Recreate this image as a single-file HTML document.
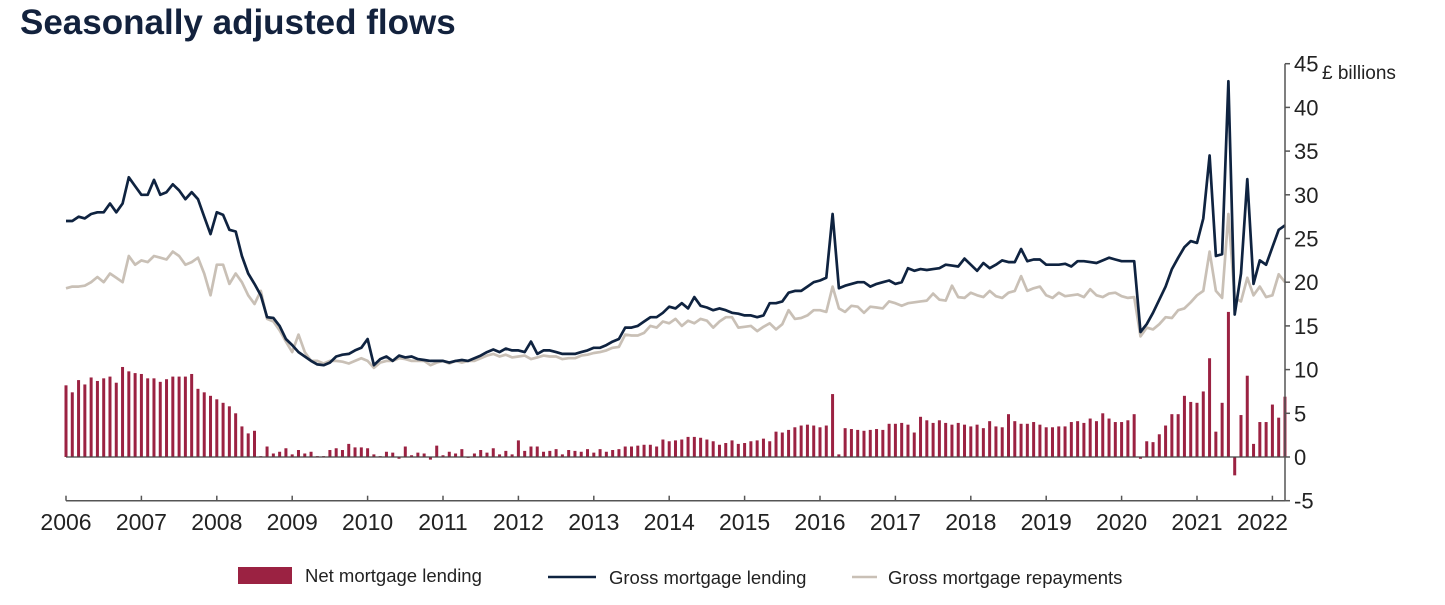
<!DOCTYPE html>
<html><head><meta charset="utf-8"><style>
body{margin:0;background:#fff;width:1445px;height:605px;overflow:hidden;font-family:"Liberation Sans",Arial,sans-serif}
#title{position:absolute;left:20px;top:3px;font-size:35px;font-weight:bold;color:#13223d}
svg{position:absolute;left:0;top:0}
</style></head><body>
<div id="title">Seasonally adjusted flows</div>
<svg id="chart" width="1445" height="605"></svg>
<script>
const yearLabels=["2006","2007","2008","2009","2010","2011","2012","2013","2014","2015","2016","2017","2018","2019","2020","2021","2022"];
const yTicks=[45,40,35,30,25,20,15,10,5,0,-5];
const gross=[27,27,27.5,27.3,27.8,28,28,29,28,29,32,31,
30,30,31.7,30,30.3,31.2,30.5,29.5,30.3,29.5,27.5,25.5,
28,27.7,26,25.8,23,21,19.8,18.5,16,15.9,15,13.5,
12.8,12,11.5,11,10.6,10.5,10.8,11.5,11.7,11.8,12.2,12.5,
13.5,10.5,11.2,11.5,11,11.6,11.4,11.5,11.2,11.1,11,11,
11,10.8,11,11.1,11,11.3,11.6,12,12.3,12,12.4,12.2,
12.2,12,13.2,11.8,12.2,12.2,12,11.8,11.8,11.8,12,12.2,
12.5,12.5,12.8,13.2,13.5,14.8,14.8,15,15.5,16,16,16.5,
17.2,17,17.6,17,18.3,17.3,17.1,16.8,17,16.8,16.5,16.4,
16.2,16.2,16,16.2,17.6,17.6,17.8,18.8,19,19,19.5,20,
20.2,20.5,27.8,19.3,19.6,19.8,20,20,19.5,19.8,20,20.2,
19.8,20,21.6,21.3,21.5,21.4,21.5,21.6,22,21.9,21.8,22.7,
22,21.3,22.2,21.6,22,22.5,22.3,22.3,23.8,22.4,22.6,22.6,
22,22,22,22.1,21.8,22.4,22.4,22.3,22.2,22.5,22.8,22.6,
22.4,22.4,22.4,14.3,15.2,16.5,18,19.5,21.5,22.8,24,24.7,
24.5,27.3,34.5,23,23.2,43,16.3,21,31.8,19.8,22.5,22,
24,26,26.5];
const repay=[19.3,19.5,19.5,19.6,20,20.6,20,21,20.5,20,23,22,
22.5,22.3,23,22.8,22.6,23.5,23,22,22.3,22.8,21,18.5,
22,22,19.8,21,20,18.5,17.5,19,15.8,15.5,14.5,13.2,
12,14,12,11,11,10.7,11,11,10.9,10.7,11,11.3,
11,10.2,10.8,11,11,11.3,11.2,11,11,11,10.5,10.8,
11,10.7,11,10.8,11,11,11.3,11.6,11.8,11.5,11.7,11.4,
11.5,11.6,11.2,11.4,11.6,11.5,11.5,11.2,11.3,11.3,11.6,11.7,
11.9,12,12.2,12.5,12.6,14,13.9,13.9,14.2,15,14.8,15.5,
15.3,15.8,15,15.6,15.3,15.8,15.6,14.8,15.5,16,16,14.8,
14.9,15,14.4,14.9,15.3,14.6,15.2,16.8,15.8,15.9,16.2,16.8,
16.8,16.6,19.5,17,16.6,17.3,17.2,16.5,17.2,17.1,17,17.8,
17.6,17.3,17.6,17.7,17.8,17.9,18.7,18,17.9,19.6,18.3,18.2,
18.8,18.5,18.3,19,18.4,18.2,18.8,19,20.7,19,19.3,19.5,
18.5,18.2,18.8,18.4,18.5,18.6,18.3,19.2,18.5,18.3,18.7,18.8,
18.4,18.2,18.3,13.8,14.8,14.6,15.2,16,15.9,16.8,17,17.7,
18.5,19,23.5,19,18.2,27.8,18.2,17.8,20.5,18.5,19.5,18.3,
18.5,20.9,20];
const net=[8.2,7.4,8.8,8.3,9.1,8.7,9.0,9.2,8.5,10.3,9.8,9.6,
9.5,9.0,9.0,8.6,8.9,9.2,9.2,9.2,9.5,7.8,7.4,7.0,
6.6,6.2,5.8,5.0,3.5,2.7,3.0,0.1,1.2,0.4,0.6,1.0,
0.3,0.8,0.4,0.6,0.1,0.1,0.8,1.0,0.8,1.5,1.1,1.1,
1.0,0.3,0.1,0.6,0.5,-0.2,1.2,0.2,0.5,0.4,-0.3,1.3,
0.2,0.6,0.4,0.9,-0.1,0.4,0.8,0.5,1.0,0.3,0.7,0.3,
1.9,0.7,1.2,1.2,0.6,0.7,0.9,0.3,0.8,0.7,0.6,0.9,
0.5,0.9,0.6,0.8,0.9,1.2,1.2,1.3,1.4,1.4,1.2,2.0,
1.8,1.9,2.0,2.3,2.3,2.2,2.0,1.8,1.4,1.6,1.9,1.5,
1.6,1.8,1.9,2.1,1.8,2.9,2.8,3.1,3.4,3.6,3.7,3.6,
3.4,3.6,7.2,0.3,3.3,3.2,3.1,3.0,3.1,3.2,3.1,3.8,
3.8,3.9,3.7,2.8,4.6,4.2,3.9,4.2,3.9,3.7,3.9,3.7,
3.5,3.7,3.3,4.1,3.5,3.4,4.9,4.1,3.8,3.8,4.0,3.7,
3.4,3.4,3.5,3.5,4.0,4.1,3.9,4.4,4.1,5.0,4.4,4.0,
4.0,4.2,4.9,-0.2,1.8,1.7,2.6,3.6,4.9,4.9,7.0,6.3,
6.2,7.5,11.3,2.9,6.2,16.6,-2.1,4.8,9.3,1.5,4.0,4.0,
6.0,4.5,6.9];

const NS="http://www.w3.org/2000/svg";
const svg=document.getElementById('chart');
const X0=66, YEARW=75.4, Y0=457, PXU=8.74, AXR=1285;
function xm(i){return X0+i*YEARW/12;}
function xy(k){return X0+k*YEARW;}
function yv(v){return Y0-v*PXU;}
function mk(tag,attrs,parent){const e=document.createElementNS(NS,tag);for(const k in attrs)e.setAttribute(k,attrs[k]);(parent||svg).appendChild(e);return e;}

const gb=mk('g',{});


net.forEach((v,i)=>{
  const y1=yv(Math.max(v,0)),y2=yv(Math.min(v,0));
  const r=mk('rect',{x:xm(i)-1.5,y:y1,width:3,height:Math.max(y2-y1,0.5),fill:'#9b2242'},gb);
  
  
});
const zl=mk('line',{x1:X0,x2:AXR,y1:Y0,y2:Y0,stroke:'#444',"stroke-width":1.3});


function line(data,color,w,name){
  const p=mk('polyline',{points:data.map((v,i)=>xm(i).toFixed(1)+','+yv(v).toFixed(1)).join(' '),fill:'none',stroke:color,"stroke-width":w,"stroke-linejoin":'round'});
  
  
}
line(repay,'#c9c0b6',2.7,'gross-repayments-line');
line(gross,'#0f2340',2.7,'gross-lending-line');

const ya=mk('line',{x1:AXR,x2:AXR,y1:yv(45),y2:yv(-5),stroke:'#555',"stroke-width":1.5});


yTicks.forEach(t=>{
  mk('line',{x1:AXR,x2:AXR+5,y1:yv(t),y2:yv(t),stroke:'#555',"stroke-width":1.5});
  const tx=mk('text',{x:AXR+9,y:yv(t)+8,"font-size":22,fill:'#222'});
  tx.textContent=t;
  
  
});
const unit=mk('text',{x:1322,y:79,"font-size":19,fill:'#222'});
unit.textContent='£ billions';


const XB=yv(-5);
const xa=mk('line',{x1:X0,x2:AXR,y1:XB,y2:XB,stroke:'#555',"stroke-width":1.5});


yearLabels.forEach((l,k)=>{
  const x=xy(k);
  mk('line',{x1:x,x2:x,y1:XB,y2:XB-5,stroke:'#555',"stroke-width":1.5});
  const tx=mk('text',{x:k==16?x-10:x,y:530,"font-size":23,fill:'#222',"text-anchor":'middle'});
  tx.textContent=l;
  
  
});
const lg=mk('g',{});


mk('rect',{x:238,y:567,width:54,height:17,fill:'#9b2242'},lg);
let t1=mk('text',{x:305,y:582,"font-size":18.5,fill:'#222'},lg);t1.textContent='Net mortgage lending';


mk('line',{x1:548,x2:596,y1:577,y2:577,stroke:'#0f2340',"stroke-width":2.5},lg);
let t2=mk('text',{x:609,y:584,"font-size":18.5,fill:'#222'},lg);t2.textContent='Gross mortgage lending';


mk('line',{x1:852,x2:877,y1:577,y2:577,stroke:'#c9c0b6',"stroke-width":2.5},lg);
let t3=mk('text',{x:888,y:584,"font-size":18.5,fill:'#222'},lg);t3.textContent='Gross mortgage repayments';


</script>
</body></html>
